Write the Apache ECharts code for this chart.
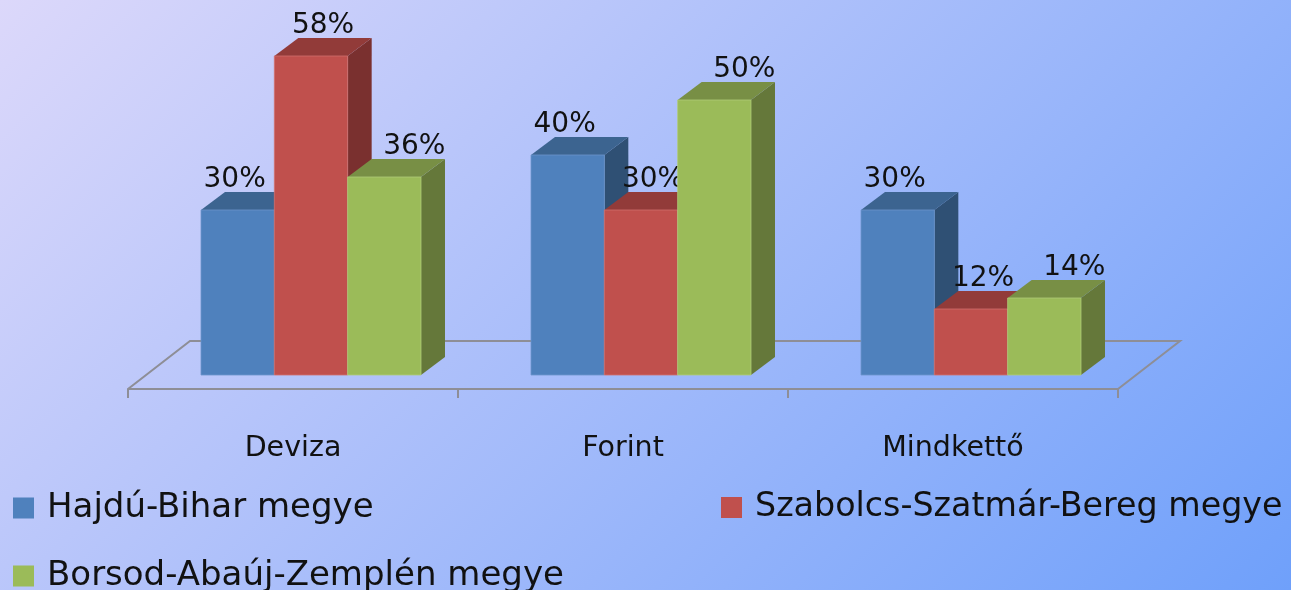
<!DOCTYPE html>
<html>
<head>
<meta charset="utf-8">
<script src="https://cdn.jsdelivr.net/npm/echarts@6/dist/echarts.min.js"></script>
<style>
html,body{margin:0;padding:0;}
#chart{width:1291px;height:590px;}
</style>
</head>
<body>
<div id="chart"></div>
<script>
const categories = ['Deviza', 'Forint', 'Mindkettő'];
const seriesNames = ['Hajdú-Bihar megye', 'Szabolcs-Szatmár-Bereg megye', 'Borsod-Abaúj-Zemplén megye'];
const hajduBihar = [30, 40, 30];
const szabolcs = [58, 30, 12];
const borsod = [36, 50, 14];
const valueLabels = v => v + '%';

const seriesValues = [hajduBihar, szabolcs, borsod];
const palette = [
  {front: '#4f81bd', top: '#3c6490', side: '#2f5074', edge: '#6d96cc'},
  {front: '#c0504d', top: '#923b39', side: '#7a302f', edge: '#d0706d'},
  {front: '#9bbb59', top: '#788f45', side: '#65783a', edge: '#b0cc78'}
];
const labelShift = [-3, 12, 30];
const DX = 24, DY = 18;
const FONT = 'DejaVu Sans';

function barRender(si) {
  return function (params, api) {
    const cat = api.value(0), val = api.value(1);
    const base = api.coord([cat, 0]);
    const top = api.coord([cat, val]);
    const band = api.size([1, 0])[0];
    const bw = band * 2 / 9;
    const x0 = base[0] + (si - 1.5) * bw, x1 = x0 + bw;
    const yb = base[1], yt = top[1];
    const c = palette[si];
    return {
      type: 'group',
      children: [
        {type: 'polygon', shape: {points: [[x1, yt], [x1 + DX, yt - DY], [x1 + DX, yb - DY], [x1, yb]]}, style: {fill: c.side}},
        {type: 'polygon', shape: {points: [[x0, yt], [x1, yt], [x1 + DX, yt - DY], [x0 + DX, yt - DY]]}, style: {fill: c.top}},
        {type: 'rect', shape: {x: x0, y: yt, width: bw, height: yb - yt}, style: {fill: c.front, stroke: c.edge, lineWidth: 0.8}},
        {type: 'text', style: {text: valueLabels(val), x: (x0 + x1) / 2 + labelShift[si], y: yt - DY + 2,
          align: 'center', verticalAlign: 'bottom', fill: '#111', fontSize: 28, fontFamily: FONT}}
      ]
    };
  };
}

const chart = echarts.init(document.getElementById('chart'));
const series = [{
  name: 'floor', type: 'custom', xAxisIndex: 0, yAxisIndex: 0, silent: true,
  data: [[0, 0]],
  renderItem: function (params, api) {
    const cs = params.coordSys;
    const yb = cs.y + cs.height;
    return {
      type: 'polyline',
      shape: {points: [[cs.x - 18, yb + 14], [cs.x + 44, yb - 34], [cs.x + cs.width + 44, yb - 34], [cs.x + cs.width - 18, yb + 14]]},
      style: {stroke: '#8e8e96', lineWidth: 2, fill: null}
    };
  }
}];
seriesNames.forEach((name, si) => {
  series.push({
    name: name, type: 'custom', xAxisIndex: 0, yAxisIndex: 0,
    itemStyle: {color: palette[si].front},
    data: seriesValues[si].map((v, i) => [i, v]),
    renderItem: barRender(si)
  });
});

function legendText(size) {
  return {fontSize: size, color: '#111', fontFamily: FONT, padding: [0, 0, 0, 8]};
}
const legendBase = {icon: 'rect', itemWidth: 21, itemHeight: 21, itemGap: 13, padding: 0};
const W = 1291, H = 590, G = (W + H) / 2;
chart.setOption({
  backgroundColor: {
    type: 'linear', global: true, x: 0, y: 0, x2: G, y2: G,
    colorStops: [{offset: 0, color: '#dcd8fa'}, {offset: 1, color: '#6fa0fa'}]
  },
  animation: false,
  grid: [
    {left: 146, width: 990, top: 45, height: 330},
    {left: 128, width: 990, top: 380, height: 9}
  ],
  xAxis: [
    {gridIndex: 0, type: 'category', data: categories, show: false},
    {gridIndex: 1, type: 'category', data: categories,
      axisLine: {show: true, lineStyle: {color: '#8e8e96', width: 2}},
      axisTick: {show: true, length: 9, lineStyle: {color: '#8e8e96', width: 2}},
      axisLabel: {fontSize: 28.5, color: '#111', fontFamily: FONT, margin: 45}}
  ],
  yAxis: [
    {gridIndex: 0, type: 'value', min: 0, max: 60, show: false},
    {gridIndex: 1, type: 'value', show: false}
  ],
  legend: [
    Object.assign({data: [seriesNames[0]], left: 13, top: 491, textStyle: legendText(34)}, legendBase),
    Object.assign({data: [seriesNames[1]], left: 721, top: 491, textStyle: legendText(33.3)}, legendBase),
    Object.assign({data: [seriesNames[2]], left: 13, top: 559, textStyle: legendText(34)}, legendBase)
  ],
  series: series
});
</script>
</body>
</html>
